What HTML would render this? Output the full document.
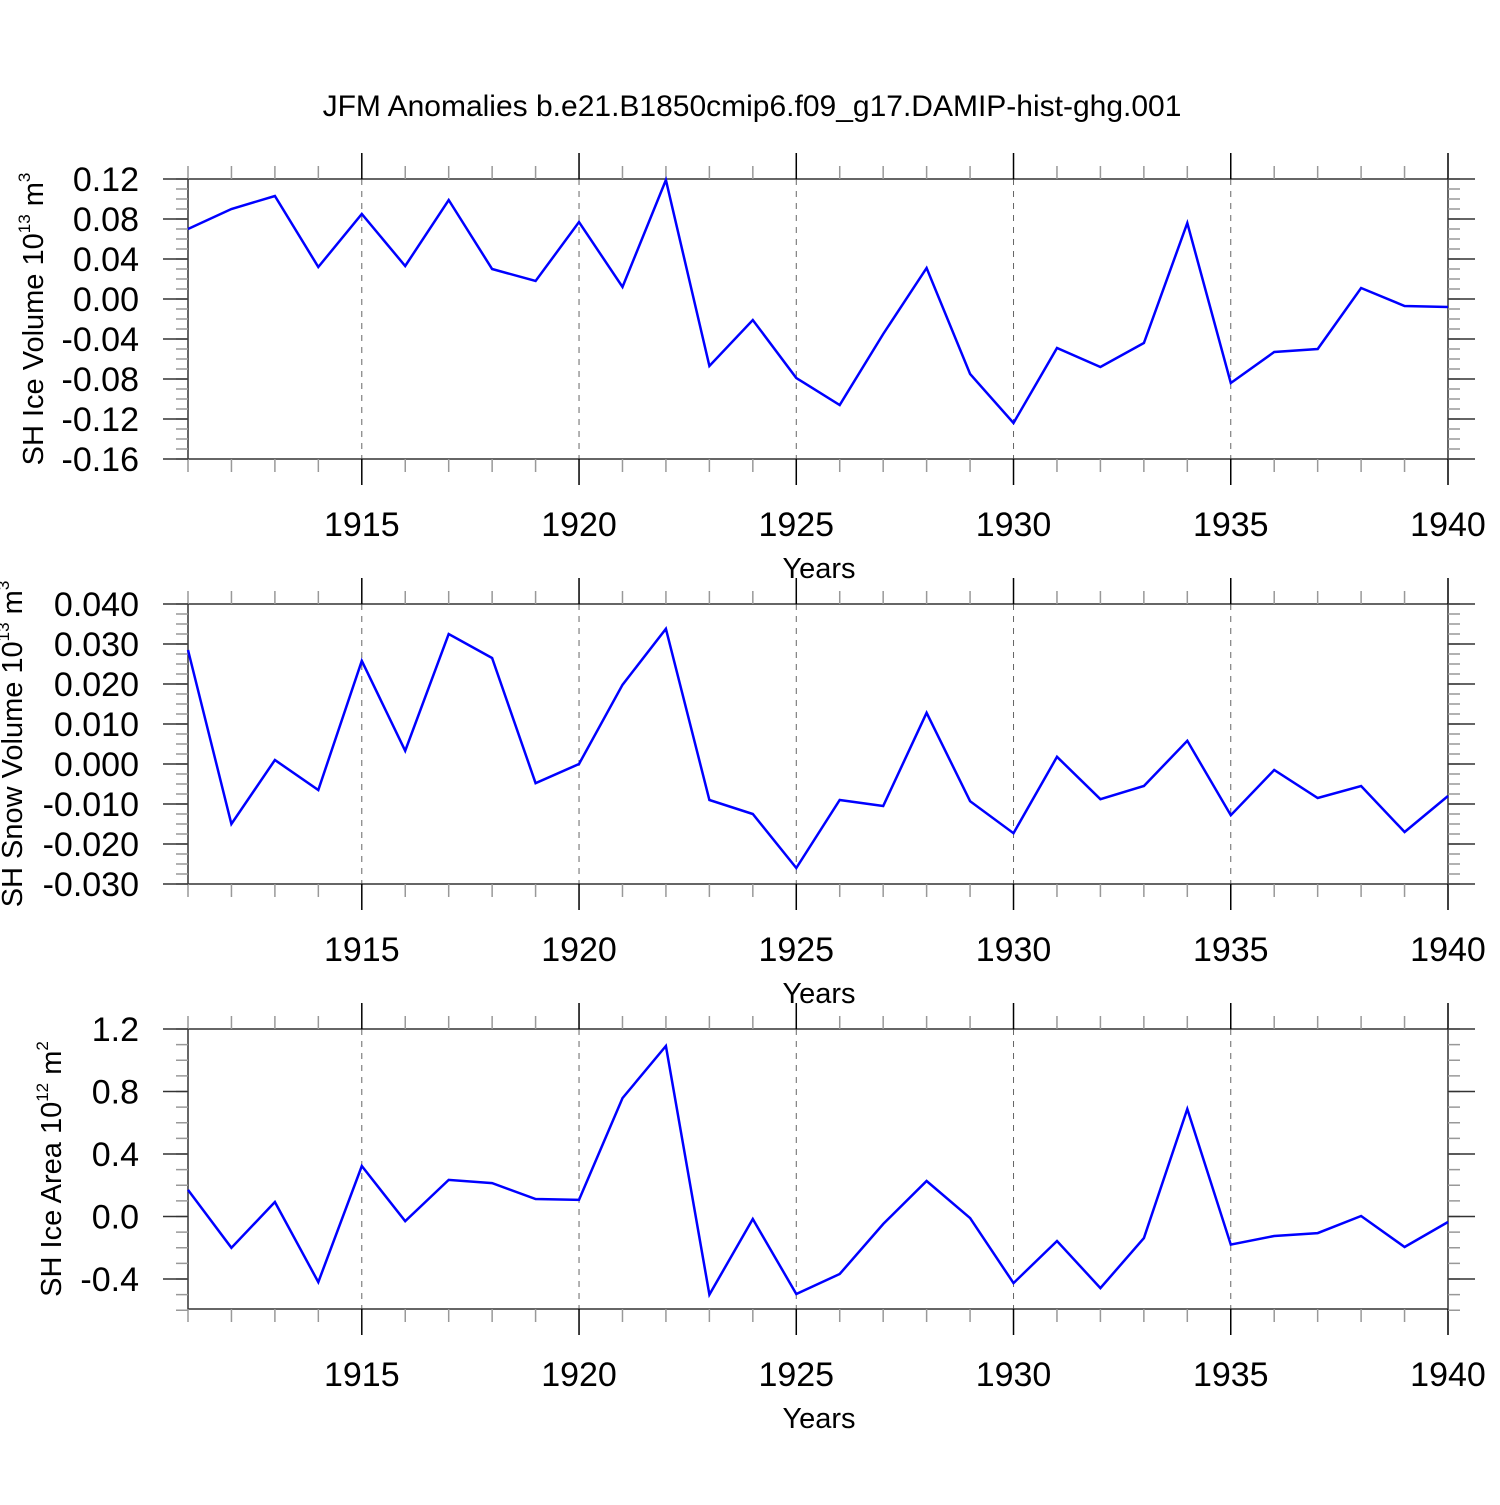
<!DOCTYPE html>
<html><head><meta charset="utf-8"><style>
body{margin:0;background:#fff}
svg text{font-family:"Liberation Sans",sans-serif;fill:#000}
</style></head><body>
<svg id="chart" width="1500" height="1500" xmlns="http://www.w3.org/2000/svg">
<rect width="1500" height="1500" fill="#fff"/>
<text x="752" y="116" font-size="30" text-anchor="middle">JFM Anomalies b.e21.B1850cmip6.f09_g17.DAMIP-hist-ghg.001</text>
</svg>
<script>
const years = [1911,1912,1913,1914,1915,1916,1917,1918,1919,1920,1921,1922,1923,1924,1925,1926,1927,1928,1929,1930,1931,1932,1933,1934,1935,1936,1937,1938,1939,1940];
const iceVolume = [0.070,0.090,0.103,0.032,0.085,0.033,0.099,0.030,0.018,0.077,0.012,0.119,-0.067,-0.021,-0.079,-0.106,-0.035,0.031,-0.075,-0.124,-0.049,-0.068,-0.044,0.076,-0.084,-0.053,-0.050,0.011,-0.007,-0.008];
const snowVolume = [0.0285,-0.015,0.001,-0.0065,0.0258,0.0033,0.0325,0.0265,-0.0048,0.000,0.0198,0.0338,-0.009,-0.0125,-0.026,-0.009,-0.0105,0.0128,-0.0093,-0.0173,0.0018,-0.0088,-0.0055,0.0058,-0.0128,-0.0015,-0.0085,-0.0055,-0.017,-0.008];
const iceArea = [0.17,-0.20,0.093,-0.42,0.323,-0.03,0.234,0.214,0.112,0.106,0.758,1.091,-0.50,-0.016,-0.496,-0.368,-0.048,0.227,-0.01,-0.426,-0.157,-0.458,-0.138,0.688,-0.18,-0.125,-0.106,0.003,-0.195,-0.035];
const xTickLabels = [1915,1920,1925,1930,1935,1940];
const iceVolTicks = ["0.12","0.08","0.04","0.00","-0.04","-0.08","-0.12","-0.16"];
const snowTicks = ["0.040","0.030","0.020","0.010","0.000","-0.010","-0.020","-0.030"];
const areaTicks = ["1.2","0.8","0.4","0.0","-0.4"];

const NS="http://www.w3.org/2000/svg";
const svg=document.getElementById('chart');
function mk(tag,attrs,parent){const e=document.createElementNS(NS,tag);for(const k in attrs)e.setAttribute(k,attrs[k]);(parent||svg).appendChild(e);return e;}
const X0=188,X1=1448;
function xs(yr){return X0+(yr-1911)*(X1-X0)/29;}

function panel(name,top,vmax,vmin,tickVals,tickLabels,minorStep,data,labelParts,labelX){
  const bot=top+280;
  const ys=v=>top+(vmax-v)/(vmax-vmin)*280;
  const g=mk('g',{});
  
  
  const ax='#333';
  for(let yr=1915;yr<1940;yr+=5){
    const l=mk('line',{x1:xs(yr),x2:xs(yr),y1:top,y2:bot,stroke:'#666','stroke-width':1,'stroke-dasharray':'6,6'},g);
    
    
  }
  const f=mk('rect',{x:X0,y:top,width:X1-X0,height:280,fill:'none',stroke:ax,'stroke-width':1.5},g);
  
  
  for(let yr=1911;yr<=1940;yr++){
    const major=yr%5===0;const len=major?26:13;
    mk('line',{x1:xs(yr),x2:xs(yr),y1:top-len,y2:top,stroke:major?'#000':'#999','stroke-width':1.5},g);
    mk('line',{x1:xs(yr),x2:xs(yr),y1:bot,y2:bot+len,stroke:major?'#000':'#999','stroke-width':1.5},g);
  }
  xTickLabels.forEach(yr=>{
    const t=mk('text',{x:xs(yr),y:bot+77,'font-size':34,'text-anchor':'middle'},g);
    t.textContent=yr;
    
    
  });
  const xt=mk('text',{x:819,y:bot+119,'font-size':29,'text-anchor':'middle'},g);
  xt.textContent='Years';
  
  
  const n=Math.round((vmax-vmin)/minorStep);
  for(let i=0;i<=n;i++){
    const v=vmax-i*minorStep;const y=ys(v);
    mk('line',{x1:X0-12,x2:X0,y1:y,y2:y,stroke:'#999','stroke-width':1.5},g);
    mk('line',{x1:X1,x2:X1+12,y1:y,y2:y,stroke:'#999','stroke-width':1.5},g);
  }
  tickVals.forEach((v,i)=>{
    const y=ys(v);
    mk('line',{x1:X0-25,x2:X0,y1:y,y2:y,stroke:ax,'stroke-width':1.5},g);
    mk('line',{x1:X1,x2:X1+27,y1:y,y2:y,stroke:ax,'stroke-width':1.5},g);
    const t=mk('text',{x:139,y:y+12,'font-size':34,'text-anchor':'end'},g);
    t.textContent=tickLabels[i];
    
    
  });
  const yt=mk('text',{transform:`translate(${labelX},${top+140}) rotate(-90)`,'font-size':29,'text-anchor':'middle'},g);
  
  
  yt.innerHTML=labelParts;
  const pts=data.map((v,i)=>xs(years[i]).toFixed(1)+','+ys(v).toFixed(1)).join(' ');
  const p=mk('polyline',{points:pts,fill:'none',stroke:'#0000ff','stroke-width':2.5,'stroke-linejoin':'miter'},g);
  
  
}
panel('ice-volume',179,0.12,-0.16,[0.12,0.08,0.04,0,-0.04,-0.08,-0.12,-0.16],iceVolTicks,0.01,iceVolume,
 'SH Ice Volume 10<tspan dy="-13" font-size="17">13</tspan><tspan dy="13"> m</tspan><tspan dy="-13" font-size="17">3</tspan>',43);
panel('snow-volume',604,0.04,-0.03,[0.04,0.03,0.02,0.01,0,-0.01,-0.02,-0.03],snowTicks,0.0025,snowVolume,
 'SH Snow Volume 10<tspan dy="-13" font-size="17">13</tspan><tspan dy="13"> m</tspan><tspan dy="-13" font-size="17">3</tspan>',22);
panel('ice-area',1029,1.2,-0.592,[1.2,0.8,0.4,0,-0.4],areaTicks,0.1,iceArea,
 'SH Ice Area 10<tspan dy="-13" font-size="17">12</tspan><tspan dy="13"> m</tspan><tspan dy="-13" font-size="17">2</tspan>',61);
</script>
</body></html>
